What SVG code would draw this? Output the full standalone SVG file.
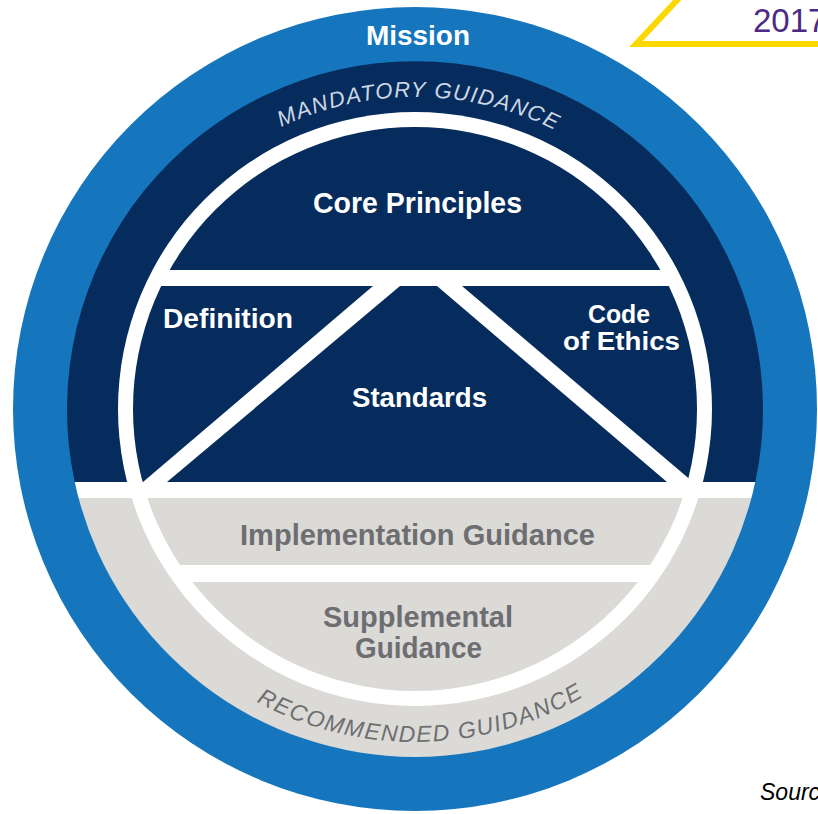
<svg xmlns="http://www.w3.org/2000/svg" width="818" height="814" viewBox="0 0 818 814">
  <style>
    .lbl { font-family: "Liberation Sans", Arial, sans-serif; font-weight: bold; text-anchor: middle; }
    .w { fill: #ffffff; }
    .g { fill: #6d6e71; }
    .arc { font-family: "Liberation Sans", Arial, sans-serif; font-style: italic; text-anchor: middle; }
    .navy { fill: #052c5c; }
    .grey { fill: #dcdad7; }
  </style>
  <defs>
    <clipPath id="inner">
      <circle cx="415" cy="409" r="282"/>
    </clipPath>
    <clipPath id="band">
      <circle cx="415" cy="409" r="348"/>
    </clipPath>
    <path id="topArc" d="M103,409 A312,312 0 0 1 727,409"/>
    <path id="bottomArc" d="M82,409 A333,333 0 0 0 748,409"/>
  </defs>

  <rect width="818" height="814" fill="#ffffff"/>

  <!-- outer mission ring -->
  <g id="mission">
    <circle cx="415" cy="409" r="402" fill="#1676bd"/>
    <text class="lbl w" x="418" y="45" font-size="28" textLength="104" lengthAdjust="spacingAndGlyphs">Mission</text>
  </g>

  <!-- mandatory (top) and recommended (bottom) bands -->
  <g id="mandatory-guidance">
    <path class="navy" d="M74.7,482 A348,348 0 1 1 755.3,482 Z"/>
    <text class="arc" font-size="22" letter-spacing="1.4" fill="#cdd6e2"><textPath href="#topArc" startOffset="50.4%">MANDATORY GUIDANCE</textPath></text>
  </g>
  <g id="recommended-guidance">
    <path class="grey" d="M78.6,498 A348,348 0 0 0 751.4,498 Z"/>
    <text class="arc" font-size="23" letter-spacing="1.5" fill="#6d6e71"><textPath href="#bottomArc" startOffset="50.6%">RECOMMENDED GUIDANCE</textPath></text>
  </g>

  <!-- white divider between mandatory and recommended guidance -->
  <rect x="0" y="482" width="818" height="16" fill="#ffffff" clip-path="url(#band)"/>

  <!-- white ring separating the inner framework -->
  <circle cx="415" cy="409" r="297" fill="#ffffff"/>

  <g clip-path="url(#inner)">
    <g id="core-principles">
      <rect class="navy" x="0" y="0" width="818" height="270"/>
      <text class="lbl w" x="417.5" y="213" font-size="30" textLength="209" lengthAdjust="spacingAndGlyphs">Core Principles</text>
    </g>
    <g id="definition">
      <polygon class="navy" points="0,286 373,286 143,482 0,482"/>
      <text class="lbl w" x="228" y="328" font-size="28" textLength="130" lengthAdjust="spacingAndGlyphs">Definition</text>
    </g>
    <g id="standards">
      <polygon class="navy" points="400,286 437,286 667,482 167,482"/>
      <text class="lbl w" x="419.5" y="407" font-size="28" textLength="135" lengthAdjust="spacingAndGlyphs">Standards</text>
    </g>
    <g id="code-of-ethics">
      <polygon class="navy" points="462,286 818,286 818,482 693,482"/>
      <text class="lbl w" x="619" y="323" font-size="25" textLength="62" lengthAdjust="spacingAndGlyphs">Code</text>
      <text class="lbl w" x="621.5" y="350" font-size="25" textLength="117" lengthAdjust="spacingAndGlyphs">of Ethics</text>
    </g>
    <g id="implementation-guidance">
      <rect class="grey" x="0" y="498" width="818" height="67"/>
      <text class="lbl g" x="417.5" y="545" font-size="30" textLength="355" lengthAdjust="spacingAndGlyphs">Implementation Guidance</text>
    </g>
    <g id="supplemental-guidance">
      <rect class="grey" x="0" y="582" width="818" height="232"/>
      <text class="lbl g" x="418" y="627" font-size="29" textLength="190" lengthAdjust="spacingAndGlyphs">Supplemental</text>
      <text class="lbl g" x="418.5" y="658" font-size="29" textLength="127" lengthAdjust="spacingAndGlyphs">Guidance</text>
    </g>
  </g>

  <!-- year callout, top right -->
  <g id="year-callout">
    <polyline points="681,-4 636,44 822,44" fill="none" stroke="#fbd900" stroke-width="6"/>
    <text x="753" y="32" font-family="'Liberation Sans', Arial, sans-serif" font-size="33" fill="#4b2a86">2017</text>
  </g>

  <!-- source note, bottom right -->
  <text x="760" y="800" font-family="'Liberation Sans', Arial, sans-serif" font-style="italic" font-size="23" fill="#000000">Sourc</text>
</svg>
